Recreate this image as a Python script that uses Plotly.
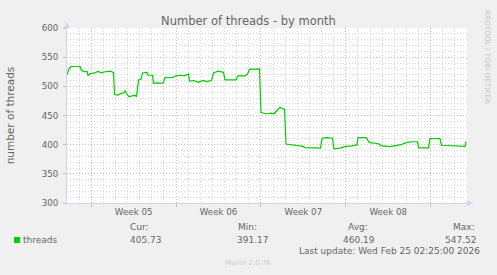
import plotly.graph_objects as go

# ---- data ----
times = [
    "2026-01-23 00:00", "2026-01-23 04:00", "2026-01-23 08:00", "2026-01-24 01:45",
    "2026-01-24 04:45", "2026-01-24 11:40", "2026-01-24 15:40", "2026-01-24 17:35",
    "2026-01-24 21:30", "2026-01-25 07:25", "2026-01-25 13:25", "2026-01-25 19:20",
    "2026-01-26 03:15", "2026-01-26 13:10", "2026-01-26 20:05", "2026-01-26 22:05",
    "2026-01-27 05:00", "2026-01-27 10:55", "2026-01-27 16:50", "2026-01-27 18:50",
    "2026-01-27 21:50", "2026-01-28 02:45", "2026-01-28 10:40", "2026-01-28 14:40",
    "2026-01-28 17:35", "2026-01-28 19:35", "2026-01-28 21:35", "2026-01-29 02:30",
    "2026-01-29 05:30", "2026-01-29 14:25", "2026-01-29 16:25", "2026-01-30 01:20",
    "2026-01-30 03:15", "2026-01-30 10:10", "2026-01-30 22:05", "2026-01-31 02:00",
    "2026-01-31 17:50", "2026-01-31 23:50", "2026-02-01 09:45", "2026-02-01 15:40",
    "2026-02-02 00:35", "2026-02-02 02:35", "2026-02-02 11:30", "2026-02-02 19:25",
    "2026-02-03 05:15", "2026-02-03 13:10", "2026-02-03 22:05", "2026-02-04 02:05",
    "2026-02-04 11:00", "2026-02-04 21:55", "2026-02-05 00:50", "2026-02-05 22:40",
    "2026-02-06 02:35", "2026-02-06 10:30", "2026-02-06 16:25", "2026-02-06 21:25",
    "2026-02-07 01:20", "2026-02-07 21:10", "2026-02-08 00:05", "2026-02-08 10:00",
    "2026-02-08 20:55", "2026-02-09 01:50", "2026-02-09 07:50", "2026-02-09 13:45",
    "2026-02-09 17:40", "2026-02-09 22:40", "2026-02-10 01:35", "2026-02-10 13:30",
    "2026-02-11 01:25", "2026-02-11 11:20", "2026-02-11 15:15", "2026-02-12 07:05",
    "2026-02-12 22:00", "2026-02-13 00:55", "2026-02-13 10:50", "2026-02-13 21:40",
    "2026-02-14 00:40", "2026-02-14 12:30", "2026-02-14 22:25", "2026-02-15 11:20",
    "2026-02-15 22:10", "2026-02-16 00:10", "2026-02-16 16:00", "2026-02-16 22:55",
    "2026-02-17 15:45", "2026-02-17 22:40", "2026-02-18 15:30", "2026-02-19 11:20",
    "2026-02-19 17:15", "2026-02-20 01:10", "2026-02-20 13:05", "2026-02-20 22:00",
    "2026-02-21 00:00", "2026-02-21 19:45", "2026-02-21 22:45", "2026-02-22 18:30",
    "2026-02-22 21:30", "2026-02-23 14:20", "2026-02-24 10:05", "2026-02-24 20:00",
    "2026-02-24 22:00",
]
threads = [
    520, 530, 534, 534,
    527, 525, 526, 518,
    522, 523, 526, 523,
    525, 526, 524, 486,
    485, 488, 489, 493,
    488, 482, 484, 485,
    482, 496, 511, 512,
    523, 524, 519, 519,
    505, 506, 505, 515,
    515.5, 518, 519, 518,
    521, 509, 510, 507,
    510, 508, 510, 523,
    526, 524, 511, 511,
    518, 518, 518, 521,
    529, 530, 455, 453,
    454, 453, 459, 464,
    462, 461, 401, 399.5,
    398, 397, 395, 394,
    394, 411, 412, 411,
    393, 394, 396.6, 398,
    399.5, 412, 412, 403.5,
    402, 398, 396.6, 399.5,
    402, 404, 405, 405,
    394.5, 394.5, 410.5, 410.5,
    399, 398, 397, 397,
    405.7,
]
x_range = ["2026-01-23 00:00", "2026-02-25 00:00"]
y_range = [300, 600]
week_centers = ["2026-01-28 12:00", "2026-02-04 12:00", "2026-02-11 12:00", "2026-02-18 12:00"]
week_labels = ["Week 05", "Week 06", "Week 07", "Week 08"]
series_name = "threads"
stat_names = ["Cur:", "Min:", "Avg:", "Max:"]
stat_values = ["405.73", "391.17", "460.19", "547.52"]
title_text = "Number of threads - by month"
y_title = "number of threads"
last_update = "Last update: Wed Feb 25 02:25:00 2026"
watermark = "RRDTOOL / TOBI OETIKER"
footer = "Munin 2.0.76"

# ---- layout constants ----
W, H = 497, 275
L, R, T, B = 67, 30, 28, 72
PW, PH = W - L - R, H - T - B
FONT = "DejaVu Sans"
FC = "#666666"
AXIS_C = "#CFD6F8"
MGRID = "rgba(230,130,130,0.6)"
GRID = "rgba(170,170,170,0.45)"
DAY = 86400000


def px2x(px):
    return (px - L) / PW


def py2y(py):
    return (T + PH - py) / PH


fig = go.Figure()
fig.add_trace(go.Scatter(
    x=times, y=threads, mode="lines", name=series_name,
    line=dict(color="#00CC00", width=1.2), showlegend=False, hoverinfo="skip",
))
fig.add_trace(go.Scatter(
    x=week_centers, y=[None] * len(week_centers), xaxis="x2", mode="lines",
    showlegend=False, hoverinfo="skip",
))

fig.update_layout(
    width=W, height=H,
    margin=dict(l=L, r=R, t=T, b=B, autoexpand=False),
    paper_bgcolor="#F0F0F0", plot_bgcolor="#FFFFFF",
    font=dict(family=FONT, color=FC, size=9),
    title=dict(text=title_text, x=0.5, xref="container", xanchor="center",
               y=1 - 20.5 / H, yref="container", yanchor="middle",
               font=dict(size=11.5, color=FC, family=FONT)),
    xaxis=dict(
        type="date", range=x_range, showticklabels=False,
        tick0="2026-01-25", dtick=7 * DAY,
        showgrid=True, gridcolor=MGRID, griddash="1px,2px", gridwidth=1,
        ticks="outside", ticklen=3, tickcolor=MGRID, tickwidth=1,
        showline=True, linecolor=AXIS_C, linewidth=1, zeroline=False,
        minor=dict(tick0="2026-01-23", dtick=DAY, showgrid=True,
                   gridcolor=GRID, griddash="1px,2px", gridwidth=1, ticks=""),
        fixedrange=True,
    ),
    xaxis2=dict(
        type="date", range=x_range, overlaying="x", side="bottom", anchor="y",
        tickmode="array", tickvals=week_centers, ticktext=week_labels,
        showgrid=False, showline=False, zeroline=False, ticks="",
        ticklabelstandoff=2,
        tickfont=dict(size=8.7, color=FC, family=FONT),
    ),
    yaxis=dict(
        range=y_range, tick0=300, dtick=50,
        showgrid=True, gridcolor=MGRID, griddash="1px,2px", gridwidth=1,
        ticks="outside", ticklen=3, tickcolor=MGRID, tickwidth=1,
        showline=True, linecolor=AXIS_C, linewidth=1, zeroline=False,
        minor=dict(dtick=10, showgrid=True, gridcolor=GRID,
                   griddash="1px,2px", gridwidth=1, ticks=""),
        tickfont=dict(size=8.7, color=FC, family=FONT),
        ticklabelstandoff=3,
        title=dict(text=y_title, font=dict(size=10.5, color=FC, family=FONT), standoff=24),
        automargin=False,
    ),
)

# axis arrows
fig.add_shape(type="path", xref="paper", yref="paper", xsizemode="pixel", ysizemode="pixel",
              xanchor=0, yanchor=1, path="M-3,0 L3,0 L0,6 Z",
              fillcolor=AXIS_C, line=dict(width=0), layer="above")
fig.add_shape(type="path", xref="paper", yref="paper", xsizemode="pixel", ysizemode="pixel",
              xanchor=1, yanchor=0, path="M0,-3 L0,3 L6,0 Z",
              fillcolor=AXIS_C, line=dict(width=0), layer="above")

# legend swatch
fig.add_shape(type="rect", xref="paper", yref="paper",
              x0=px2x(14), x1=px2x(20), y0=py2y(243), y1=py2y(237),
              fillcolor="#00CC00", line=dict(width=0))


def ann(text, px, py, xanchor="left", size=9, color=FC, angle=0, yanchor="middle"):
    fig.add_annotation(text=text, x=px2x(px), y=py2y(py), xref="paper", yref="paper",
                       xanchor=xanchor, yanchor=yanchor, showarrow=False, textangle=angle,
                       font=dict(size=size, color=color, family=FONT))


ann(series_name, 20.5, 239.5)
header_pos = [(127.7, "left"), (236, "left"), (346, "left"), (476.7, "right")]
value_pos = [(127.7, "left"), (234.5, "left"), (340.7, "left"), (479.3, "right")]
for name, val, (hx, ha), (vx, va) in zip(stat_names, stat_values, header_pos, value_pos):
    ann(name, hx, 227, xanchor=ha)
    ann(val, vx, 239.5, xanchor=va)
ann(last_update, 482, 251, xanchor="right")
ann(footer, 248, 263, xanchor="center", size=7, color="#CCCCCC")
ann(watermark, 487, 8, xanchor="center", yanchor="top", size=7.3, color="#C8C8C8", angle=90)

fig.write_html("out.html")
